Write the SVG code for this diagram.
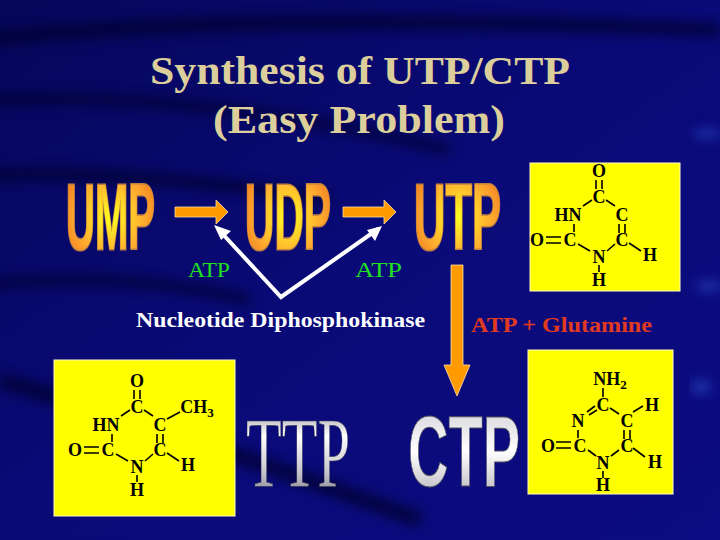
<svg xmlns="http://www.w3.org/2000/svg" width="720" height="540" viewBox="0 0 720 540">
<defs>
<linearGradient id="bg" x1="0" y1="0" x2="1" y2="1"><stop offset="0" stop-color="#06065a"/><stop offset="0.5" stop-color="#0a0a78"/><stop offset="1" stop-color="#0c0c82"/></linearGradient>
<radialGradient id="wa" cx="0.5" cy="0.5" r="0.6"><stop offset="0" stop-color="#ffff20"/><stop offset="0.6" stop-color="#ffb030"/><stop offset="1" stop-color="#f07a20"/></radialGradient>
<linearGradient id="sil" x1="0" y1="0" x2="0" y2="1"><stop offset="0" stop-color="#707080"/><stop offset="0.35" stop-color="#ffffff"/><stop offset="0.7" stop-color="#c0c0c8"/><stop offset="1" stop-color="#606070"/></linearGradient>
<linearGradient id="sil2" x1="0" y1="0" x2="0" y2="1"><stop offset="0" stop-color="#c8c8d0"/><stop offset="0.5" stop-color="#ffffff"/><stop offset="1" stop-color="#a8a8b0"/></linearGradient>
<filter id="blur"><feGaussianBlur stdDeviation="6"/></filter>
<g id="ring">
<text x="0" y="-20" class="at">O</text>
<text x="0" y="6" class="at">C</text>
<text x="-31" y="24" class="at">HN</text>
<text x="23" y="24" class="at">C</text>
<text x="-29" y="49" class="at">C</text>
<text x="-62" y="49" class="at">O</text>
<text x="23" y="49" class="at">C</text>
<text x="0" y="66" class="at">N</text>
<text x="0" y="89" class="at">H</text>
<text x="51" y="64" class="at">H</text>
<path class="bd" d="M-3,-17 V-8 M3,-17 V-8 M-7,3 L-16,9 M7,3 L16,9 M-25,27 V35 M20,27 V36 M26,27 V36 M-53,40 H-38 M-53,46 H-38 M-21,47 L-9,54 M8,54 L16,47 M0,68 V75 M30,46 L42,54"/>
</g>
</defs>
<style>
.at{font-family:"Liberation Serif",serif;font-weight:bold;font-size:18px;text-anchor:middle;fill:#000}
.bd{stroke:#000;stroke-width:1.6;fill:none}
.box{fill:#ffff00;stroke:#fffbc0;stroke-width:1}
.wa{font-family:"Liberation Sans",sans-serif;font-weight:bold;font-size:92px;fill:url(#wa);stroke:#c08040;stroke-width:3;paint-order:stroke}
.ser{font-family:"Liberation Serif",serif}
.san{font-family:"Liberation Sans",sans-serif}
</style>
<rect width="720" height="540" fill="url(#bg)"/>
<g filter="url(#blur)" fill="none" stroke="#02022a" opacity="0.7">
<path d="M-20,40 Q250,10 720,30" stroke-width="14"/>
<path d="M-20,100 Q200,90 450,150" stroke-width="10"/>
<path d="M-20,175 Q150,170 330,200" stroke-width="12"/>
<path d="M-20,285 Q120,270 250,300" stroke-width="10"/>
<path d="M0,380 Q200,440 420,520" stroke-width="16"/>
</g>
<g fill="#3a6ae8" opacity="0.5" filter="url(#blur)">
<rect x="695" y="130" width="25" height="7"/>
<rect x="698" y="282" width="22" height="8"/>
<rect x="692" y="382" width="18" height="10"/>
</g>
<g id="title" class="ser" font-weight="bold" font-size="40" fill="#dccf9c">
<text x="150" y="84" textLength="420" lengthAdjust="spacingAndGlyphs">Synthesis of UTP/CTP</text>
<text x="213" y="133" textLength="292" lengthAdjust="spacingAndGlyphs">(Easy Problem)</text>
</g>
<g id="ump"><text class="wa" x="66" y="249" textLength="89" lengthAdjust="spacingAndGlyphs">UMP</text></g>
<g id="udp"><text class="wa" x="245" y="249" textLength="86" lengthAdjust="spacingAndGlyphs">UDP</text></g>
<g id="utp"><text class="wa" x="414" y="249" textLength="87" lengthAdjust="spacingAndGlyphs">UTP</text></g>
<g id="connectors">
<path d="M175,207 H216 V200 L228,212 L216,224 V217 H175 Z" fill="#ff9a00" stroke="#ffe0a0" stroke-width="0.8"/>
<path d="M343,207 H384 V200 L396,212 L384,224 V217 H343 Z" fill="#ff9a00" stroke="#ffe0a0" stroke-width="0.8"/>
<polyline points="218,229 281,297 378,229" fill="none" stroke="#fff" stroke-width="4"/>
<path d="M214,225 L231,231 L221,240 Z M382,226 L375,241 L367,230 Z" fill="#fff"/>
<path d="M451,265 H463 V365 H470 L457,396 L444,365 H451 Z" fill="#ff9a00" stroke="#ffe0a0" stroke-width="0.8"/>
</g>
<g id="labels" class="ser" font-size="20">
<text x="188" y="277" fill="#20e020" textLength="42" lengthAdjust="spacingAndGlyphs">ATP</text>
<text x="355" y="277" fill="#20e020" textLength="47" lengthAdjust="spacingAndGlyphs">ATP</text>
<text x="136" y="327" fill="#fff" font-weight="bold" font-size="21" textLength="289" lengthAdjust="spacingAndGlyphs">Nucleotide Diphosphokinase</text>
<text x="471" y="332" fill="#e03a20" font-weight="bold" font-size="21" textLength="181" lengthAdjust="spacingAndGlyphs">ATP + Glutamine</text>
</g>
<g id="uracil"><rect class="box" x="530" y="163" width="150" height="128"/><use href="#ring" transform="translate(599,197)"/></g>
<g id="thymine"><rect class="box" x="54" y="360" width="181" height="156"/><use href="#ring" transform="translate(137,407)"/>
<text class="at" x="197" y="413">CH<tspan font-size="13" dy="4">3</tspan></text><path class="bd" d="M167,419 L180,412"/></g>
<g id="cytosine"><rect class="box" x="528" y="350" width="145" height="144"/>
<g transform="translate(603,405)">
<text x="7" y="-20" class="at">NH<tspan font-size="13" dy="4">2</tspan></text>
<text x="0" y="6" class="at">C</text>
<text x="-25" y="22" class="at">N</text>
<text x="24" y="22" class="at">C</text>
<text x="49" y="6" class="at">H</text>
<text x="-23" y="47" class="at">C</text>
<text x="-55" y="47" class="at">O</text>
<text x="24" y="47" class="at">C</text>
<text x="0" y="64" class="at">N</text>
<text x="0" y="86" class="at">H</text>
<text x="52" y="63" class="at">H</text>
<path class="bd" d="M0,-17 V-8 M-8,1 L-16,7 M-6,5 L-14,10 M7,3 L16,9 M30,7 L40,1 M-25,25 V33 M21,25 V34 M27,25 V34 M-47,37 H-32 M-47,43 H-32 M-15,45 L-7,51 M8,51 L16,45 M0,66 V73 M30,43 L42,52"/>
</g></g>
<g id="ttp"><text x="246" y="486" class="ser" font-size="100" fill="url(#sil)" stroke="#404050" stroke-width="0.6" textLength="104" lengthAdjust="spacingAndGlyphs">TTP</text></g>
<g id="ctp"><text x="408" y="486" class="san" font-weight="bold" font-size="100" fill="url(#sil2)" stroke="#505060" stroke-width="1" textLength="112" lengthAdjust="spacingAndGlyphs">CTP</text></g>
</svg>
